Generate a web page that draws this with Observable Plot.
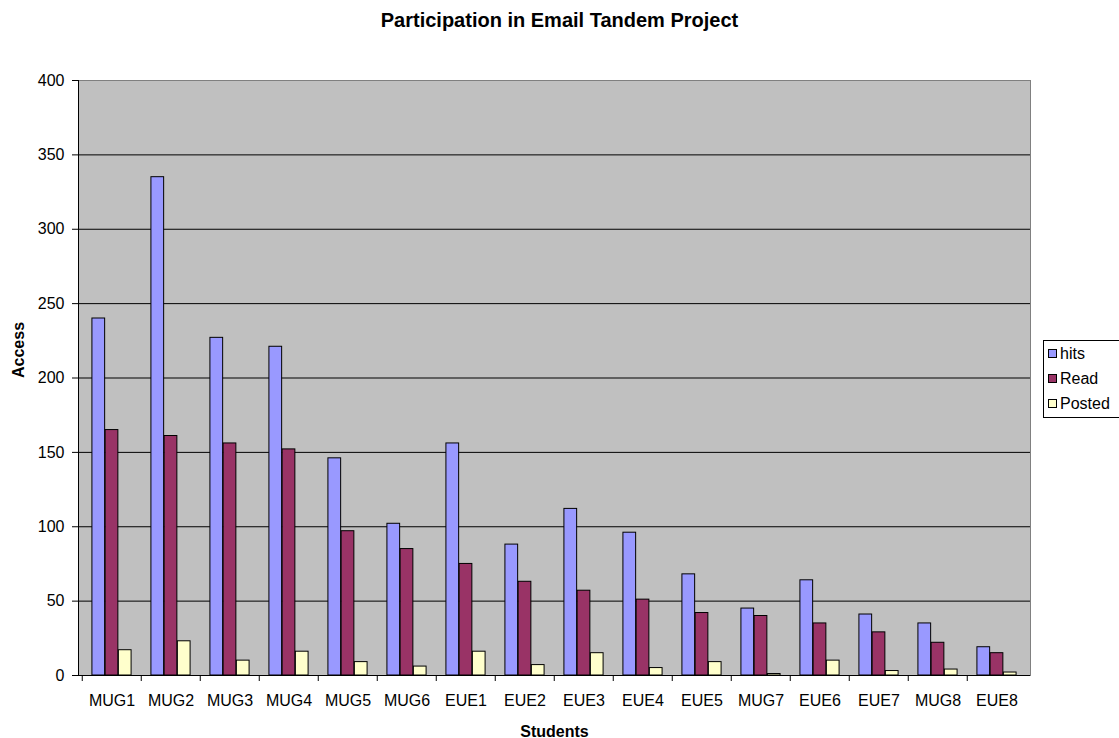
<!DOCTYPE html>
<html>
<head>
<meta charset="utf-8">
<script src="https://cdn.jsdelivr.net/npm/d3@7"></script>
<script src="https://cdn.jsdelivr.net/npm/@observablehq/plot@0.6"></script>
<style>
  html, body { margin: 0; padding: 0; background: #fff; }
  body { font-family: "Liberation Sans", Arial, sans-serif; }
  #wrap { position: relative; width: 1119px; height: 738px; overflow: hidden; }
  #chart { position: absolute; left: 0; top: 0; }
  #title { position: absolute; left: 0; top: 10px; width: 1119px; text-align: center;
           font-weight: bold; font-size: 20px; line-height: 20px; color: #000; }
  #legend { position: absolute; left: 1043px; top: 340px; width: 90px; background: #fff;
            border: 1px solid #000; padding: 0 0 1px 4px; box-sizing: content-box; }
  .row { height: 25px; display: flex; align-items: center; font-size: 16px; color: #000; white-space: nowrap; }
  .sw { width: 7px; height: 7px; border: 1px solid #000; margin-right: 3px; flex: none; }
</style>
</head>
<body>
<div id="wrap">
  <div id="chart"></div>
  <div id="title"></div>
  <div id="legend"></div>
</div>
<script>
// ---- data ----
const titleText = "Participation in Email Tandem Project";
const xTitle = "Students";
const yTitle = "Access";
const students = ["MUG1","MUG2","MUG3","MUG4","MUG5","MUG6","EUE1","EUE2","EUE3","EUE4","EUE5","MUG7","EUE6","EUE7","MUG8","EUE8"];
const hits   = [240, 335, 227, 221, 146, 102, 156, 88, 112, 96, 68, 45, 64, 41, 35, 19];
const read   = [165, 161, 156, 152,  97,  85,  75, 63,  57, 51, 42, 40, 35, 29, 22, 15];
const posted = [ 17,  23,  10,  16,   9,   6,  16,  7,  15,  5,  9,  1, 10,  3,  4,  2];
const seriesNames = ["hits", "Read", "Posted"];
const seriesColors = ["#9999FF", "#993366", "#FFFFCC"];
const yTicks = [0, 50, 100, 150, 200, 250, 300, 350, 400];

// ---- layout ----
const W = 1119, H = 738;
const mL = 78, mR = 89, mT = 80, mB = 63;
const step = (W - mL - mR) / students.length;
const b = step / 4.5; // bar width (Excel gap width 150%)

const valuesBySeries = [hits, read, posted];
const rows = students.map((s, i) => {
  const r = {student: s};
  seriesNames.forEach((k, j) => r[k] = valuesBySeries[j][i]);
  return r;
});

const bars = seriesNames.map((k, j) => Plot.barY(rows, {
  x: "student", y: k, fill: seriesColors[j], stroke: "#000", strokeWidth: 1,
  insetLeft: (0.75 + j) * b, insetRight: (2.75 - j) * b
}));

const plot = Plot.plot({
  width: W, height: H,
  marginLeft: mL, marginRight: mR, marginTop: mT, marginBottom: mB,
  style: {fontFamily: "'Liberation Sans', Arial, sans-serif", fontSize: "16px", color: "#000", background: "transparent"},
  x: {type: "band", domain: students, padding: 0},
  y: {domain: [0, 400]},
  marks: [
    Plot.frame({fill: "#C0C0C0", stroke: null}),
    Plot.ruleY(yTicks.filter(v => v > 0 && v < 400), {stroke: "#000", strokeWidth: 1}),
    Plot.ruleY([400], {stroke: "#808080", strokeWidth: 1}),
    Plot.frame({anchor: "right", stroke: "#808080"}),
    ...bars,
    Plot.ruleY([0], {stroke: "#000", strokeWidth: 1}),
    Plot.frame({anchor: "left", stroke: "#000"}),
    Plot.axisY({ticks: yTicks, tickSize: 6, tickPadding: 8, tickFormat: d => String(d), label: null}),
    Plot.axisX({tickSize: 0, tickPadding: 19, label: null}),
    Plot.axisX({tickSize: 6, tickFormat: () => "", dx: -step / 2, label: null}),
    Plot.text([yTitle], {frameAnchor: "left", dx: -66, rotate: -90, lineAnchor: "top",
                         fontWeight: "bold", fontSize: 16, fill: "#000"}),
    Plot.text([xTitle], {frameAnchor: "bottom", dy: 61, lineAnchor: "bottom",
                         fontWeight: "bold", fontSize: 16, fill: "#000"})
  ]
});
document.getElementById("chart").appendChild(plot);
document.getElementById("title").textContent = titleText;

// legend
const lg = document.getElementById("legend");
seriesNames.forEach((k, j) => {
  const row = document.createElement("div");
  row.className = "row";
  const sw = document.createElement("span");
  sw.className = "sw";
  sw.style.background = seriesColors[j];
  const t = document.createElement("span");
  t.textContent = k;
  row.appendChild(sw); row.appendChild(t);
  lg.appendChild(row);
});
</script>
</body>
</html>
